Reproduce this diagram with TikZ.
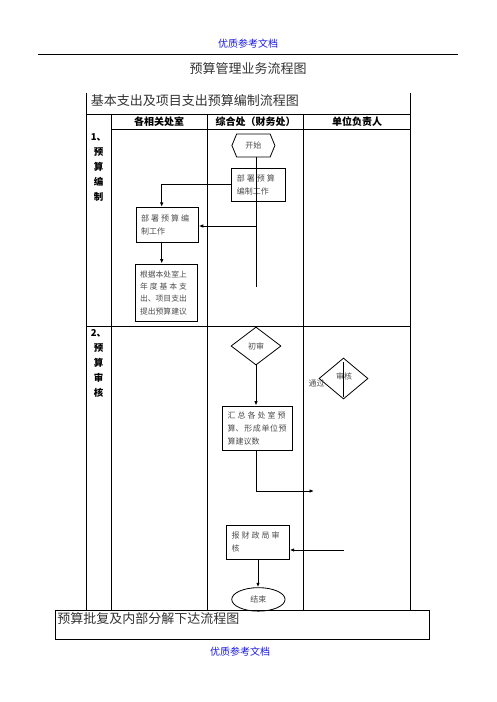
\documentclass[tikz,border=0pt]{standalone}
\usepackage{fontspec}
\setmainfont{Noto Sans CJK SC}
\usetikzlibrary{shapes.geometric,shapes.symbols,arrows.meta}
\definecolor{hdrblue}{RGB}{25,25,225}
\newcommand{\gp}{\hspace{2pt}}
\newcommand{\sgp}{\hspace{0.6pt}}
\begin{document}
\begin{tikzpicture}[x=1pt,y=-1pt,line width=0.7pt,
  box/.style={draw,line width=0.8pt,inner xsep=5pt,inner ysep=0pt,align=left,text=black!70,
    font=\fontsize{8}{12.8}\selectfont},
  arr/.style={-{Latex[length=4.5pt,width=3.6pt]},line width=0.9pt},
  lab/.style={font=\fontsize{9.5}{10}\selectfont\bfseries,inner sep=0pt},
  hlab/.style={font=\fontsize{10}{11}\selectfont\bfseries,inner sep=0pt},
  small/.style={font=\fontsize{8}{9}\selectfont,text=black!70,inner sep=0pt},
  big/.style={font=\fontsize{13}{14}\selectfont,text=black!80,inner sep=0pt},
  blue/.style={font=\fontsize{10}{11}\selectfont,text=hdrblue,inner sep=0pt}]
\useasboundingbox (0,0) rectangle (496,702);
% page header / footer
\node[blue] (hdr) at (248,44) {优质参考文档};
\draw[line width=0.6pt] (38,54) -- (458,54);
\node[big] (ptitle) at (248,69) {预算管理业务流程图};
\node[blue] (ftr) at (240,652) {优质参考文档};
% table frame
\draw (86,93) -- (86,610);
\draw (410,93) -- (410,610);
\draw (86,114) -- (410,114);
\draw (111,114) -- (111,610);
\draw (207.5,114) -- (207.5,610);
\draw (303.5,114) -- (303.5,610);
\draw (111,129) -- (410,129);
\draw (86,326) -- (410,326);
\node[big,anchor=west] (ttitle) at (90.5,101) {基本支出及项目支出预算编制流程图};
\node[draw,line width=0.8pt,minimum width=374,minimum height=29,inner sep=0pt] (bottombox) at (242,624.5) {};
\node[big,anchor=west] (btitle) at (57,619) {预算批复及内部分解下达流程图};
% column headers
\node[hlab] (h1) at (159,122) {各相关处室};
\node[hlab] (h2) at (255.5,122) {综合处（财务处）};
\node[hlab] (h3) at (357,122) {单位负责人};
% row labels
\node[lab,anchor=west] (r1) at (90.5,137) {1、};
\node[lab] (r1a) at (98.5,152) {预};
\node[lab] (r1b) at (98.5,167) {算};
\node[lab] (r1c) at (98.5,182) {编};
\node[lab] (r1d) at (98.5,197) {制};
\node[lab,anchor=west] (r2) at (90.5,333) {2、};
\node[lab] (r2a) at (98.5,348) {预};
\node[lab] (r2b) at (98.5,363) {算};
\node[lab] (r2c) at (98.5,378) {审};
\node[lab] (r2d) at (98.5,393) {核};
% stage 1
\node[draw,line width=0.8pt,signal,signal to=east and west,signal pointer angle=135,
  minimum width=43,minimum height=23,inner sep=0pt,small] (start) at (253.4,145.5) {开始};
\node[box,minimum width=53.3,minimum height=33.7,text width=43.3] (box1) at (258.4,184.9)
  {部\gp 署\gp 预\gp 算\\编制工作};
\node[box,minimum width=62.3,minimum height=35.4,text width=52.3] (box2) at (167.2,225)
  {部\gp 署\gp 预\gp 算\gp 编\\制工作};
\node[box,minimum width=62.3,minimum height=57.7,text width=52.3,
  font=\fontsize{7.8}{12.4}\selectfont] (box3) at (166.2,292.8)
  {根据本处室上\\年\gp 度\gp 基\gp 本\gp 支\\出、项目支出\\提出预算建议};
\coordinate (v1) at (256,287);
\coordinate (v2) at (256,226);
\draw[line width=0.8pt] ([xshift=2.6pt]start.south) -- (v1);
\draw[arr] (box1.west) -| ([xshift=-5.5pt]box2.north);
\draw[arr] (v2) -- (v2 -| box2.east);
\draw[arr] ([xshift=-5.5pt]box2.south) -- ([xshift=-5.5pt]box2.south |- box3.north);
% stage 2
\node[draw,line width=0.8pt,diamond,minimum width=50,minimum height=38,inner sep=0pt,small] (dia1) at (256,346) {初审};
\node[box,minimum width=70,minimum height=44.7,text width=60] (box4) at (257.7,428.3)
  {汇\gp 总\gp 各\gp 处\gp 室\gp 预\\算、\sgp 形\sgp 成\sgp 单\sgp 位\sgp 预\\算建议数};
\coordinate (v3) at (256,491);
\coordinate (v4) at (314,491);
\draw[arr] (dia1.south) -- (dia1.south |- box4.north);
\draw[arr] (box4.south -| v3) -- (v3) -- (v4);
\node[draw,line width=0.8pt,diamond,minimum width=49,minimum height=41,inner sep=0pt] (dia2) at (343.5,378.5) {};
\node[small] (dia2t) at (344,376) {审核};
\node[small,anchor=east] (pass) at (325,383) {通过};
\draw[line width=0.8pt] ([yshift=-4pt]dia2.north) -- ([yshift=2pt]dia2.south);
\node[box,minimum width=62.6,minimum height=34.3,text width=52.6] (box5) at (258,542.2)
  {报\gp 财\gp 政\gp 局\gp 审\\核};
\coordinate (v5) at (344,550);
\draw[arr] (v5) -- (v5 -| box5.east);
\node[draw,line width=0.8pt,ellipse,minimum width=53.3,minimum height=23.5,inner sep=0pt,small] (end) at (258.4,599.4) {结束};
\draw[arr] (box5.south) -- (box5.south |- end.north);
\end{tikzpicture}
\end{document}
